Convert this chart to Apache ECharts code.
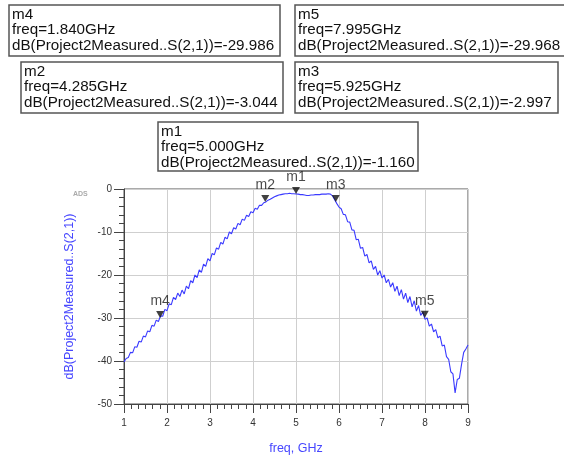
<!DOCTYPE html>
<html>
<head>
<meta charset="utf-8">
<script src="https://cdn.jsdelivr.net/npm/echarts@6/dist/echarts.min.js"></script>
<style>
  html, body { margin: 0; padding: 0; background: #fff; }
  #chart { width: 564px; height: 456px; }
</style>
</head>
<body>
<div id="chart"></div>
<script>
// measured sweep, GHz
var freqGHz = [
  1.00, 1.05, 1.10, 1.15, 1.20, 1.25, 1.30, 1.35, 1.40, 1.45,
  1.50, 1.55, 1.60, 1.65, 1.70, 1.75, 1.80, 1.85, 1.90, 1.95,
  2.00, 2.05, 2.10, 2.15, 2.20, 2.25, 2.30, 2.35, 2.40, 2.45,
  2.50, 2.55, 2.60, 2.65, 2.70, 2.75, 2.80, 2.85, 2.90, 2.95,
  3.00, 3.05, 3.10, 3.15, 3.20, 3.25, 3.30, 3.35, 3.40, 3.45,
  3.50, 3.55, 3.60, 3.65, 3.70, 3.75, 3.80, 3.85, 3.90, 3.95,
  4.00, 4.05, 4.10, 4.15, 4.20, 4.25, 4.30, 4.35, 4.40, 4.45,
  4.50, 4.55, 4.60, 4.65, 4.70, 4.75, 4.80, 4.85, 4.90, 4.95,
  5.00, 5.05, 5.10, 5.15, 5.20, 5.25, 5.30, 5.35, 5.40, 5.45,
  5.50, 5.55, 5.60, 5.65, 5.70, 5.75, 5.80, 5.85, 5.90, 5.95,
  6.00, 6.05, 6.10, 6.15, 6.20, 6.25, 6.30, 6.35, 6.40, 6.45,
  6.50, 6.55, 6.60, 6.65, 6.70, 6.75, 6.80, 6.85, 6.90, 6.95,
  7.00, 7.05, 7.10, 7.15, 7.20, 7.25, 7.30, 7.35, 7.40, 7.45,
  7.50, 7.55, 7.60, 7.65, 7.70, 7.75, 7.80, 7.85, 7.90, 7.95,
  8.00, 8.05, 8.10, 8.15, 8.20, 8.25, 8.30, 8.35, 8.40, 8.45,
  8.50, 8.55, 8.60, 8.65, 8.70, 8.75, 8.80, 8.85, 8.90, 8.95,
  9.00
]
// dB(S21)
var s21dB = [
  -40.2, -39.4, -39.2, -38.0, -38.1, -36.7, -36.8, -35.4, -35.6, -34.2,
  -34.4, -33.0, -33.2, -31.7, -31.9, -30.5, -30.8, -29.5, -29.6, -28.0,
  -28.3, -26.7, -26.9, -25.2, -25.7, -24.2, -25.0, -23.5, -24.4, -22.6,
  -23.2, -21.3, -21.8, -20.0, -20.6, -18.8, -19.4, -17.5, -18.0, -16.2,
  -16.7, -15.0, -15.3, -13.7, -14.0, -12.4, -12.8, -11.2, -11.6, -10.0,
  -10.4, -9.0, -9.3, -8.0, -8.3, -7.0, -7.3, -6.1, -6.4, -5.3,
  -5.5, -4.5, -4.7, -3.8, -3.8, -3.2, -3.0, -2.6, -2.4, -2.1,
  -1.8, -1.6, -1.4, -1.3, -1.2, -1.1, -1.1, -1.0, -1.1, -1.1,
  -1.16, -1.2, -1.3, -1.3, -1.4, -1.5, -1.5, -1.4, -1.4, -1.3,
  -1.3, -1.3, -1.2, -1.2, -1.2, -1.1, -1.2, -1.6, -2.5, -3.4,
  -4.2, -4.6, -5.9, -6.0, -7.6, -7.7, -9.5, -9.6, -11.8, -11.7,
  -13.8, -13.6, -15.6, -15.2, -17.2, -16.7, -18.7, -18.0, -20.0, -19.0,
  -20.7, -20.0, -21.8, -21.0, -22.8, -21.8, -23.8, -22.6, -24.8, -23.4,
  -25.6, -24.2, -26.4, -25.0, -27.4, -26.0, -28.4, -27.1, -29.4, -28.6,
  -30.3, -30.0, -31.9, -31.4, -33.2, -32.7, -34.6, -34.2, -36.5, -36.3,
  -39.0, -39.6, -42.5, -43.0, -47.4, -44.3, -44.0, -40.8, -38.0, -37.2,
  -36.3
]

var markerNames = ['m1', 'm2', 'm3', 'm4', 'm5']
var markerFreq = [5.000, 4.285, 5.925, 1.840, 7.995]
var markerDb = [-1.160, -3.044, -2.997, -29.986, -29.968]

var traceName = 'dB(Project2Measured..S(2,1))'

// readout boxes: x, y, w, h (same order as markerNames)
var boxes = [
  [158, 122, 260, 49],
  [21, 62, 262, 51],
  [295, 62, 263, 51],
  [9, 5, 271, 51],
  [295, 5, 275, 51]
]

var lineData = freqGHz.map(function (f, i) { return [f, s21dB[i]] })
var markerData = markerNames.map(function (n, i) {
  return { name: n, value: [markerFreq[i], markerDb[i]] }
})

var graphics = [{
  type: 'text', left: 73, top: 191,
  style: { text: 'ADS', fill: '#aaa', font: 'bold 7px "Liberation Sans", Arial' }
}]
markerNames.forEach(function (n, i) {
  var b = boxes[i]
  graphics.push({
    type: 'rect',
    shape: { x: b[0], y: b[1], width: b[2], height: b[3] },
    style: { fill: '#fff', stroke: '#555', lineWidth: 1.5 }
  })
  graphics.push({
    type: 'text', x: b[0] + 3, y: b[1] + 2,
    style: {
      text: n + '\nfreq=' + markerFreq[i].toFixed(3) + 'GHz\n' + traceName + '=' + markerDb[i].toFixed(3),
      fill: '#111',
      font: '15.2px "Liberation Sans", Arial',
      lineHeight: 15.5
    }
  })
})

var tickColor = '#444'

var myChart = echarts.init(document.getElementById('chart'))
var options = {
  animation: false,
  backgroundColor: '#fff',
  grid: {
    left: 124, right: 96, top: 189, bottom: 48,
    show: true, borderColor: '#555', borderWidth: 1
  },
  xAxis: {
    type: 'value',
    min: 1, max: 9, interval: 1,
    name: 'freq, GHz',
    nameLocation: 'middle',
    nameGap: 38,
    nameTextStyle: { color: '#4646ff', fontSize: 12.5, fontFamily: 'Liberation Sans' },
    axisLine: { show: true, onZero: false, lineStyle: { color: tickColor } },
    axisTick: { show: true, length: 9, lineStyle: { color: tickColor } },
    minorTick: { show: true, splitNumber: 6, length: 5, lineStyle: { color: tickColor } },
    axisLabel: { margin: 14, color: '#333', fontSize: 10, fontFamily: 'Liberation Sans' },
    splitLine: { show: true, lineStyle: { color: '#cfcfcf' } }
  },
  yAxis: {
    type: 'value',
    min: -50, max: 0, interval: 10,
    name: traceName,
    nameLocation: 'middle',
    nameGap: 48,
    nameTextStyle: { color: '#4646ff', fontSize: 12.5, fontFamily: 'Liberation Sans' },
    axisLine: { show: true, onZero: false, lineStyle: { color: tickColor } },
    axisTick: { show: true, length: 10, lineStyle: { color: tickColor } },
    minorTick: { show: true, splitNumber: 5, length: 5, lineStyle: { color: tickColor } },
    axisLabel: { margin: 12, color: '#333', fontSize: 10, fontFamily: 'Liberation Sans' },
    splitLine: { show: true, lineStyle: { color: '#cfcfcf' } }
  },
  series: [{
    type: 'line',
    data: lineData,
    showSymbol: false,
    symbol: 'none',
    lineStyle: { color: '#3a3aff', width: 1.1 },
    z: 2
  }, {
    type: 'scatter',
    data: markerData,
    symbol: 'triangle',
    symbolRotate: 180,
    symbolSize: [8, 7],
    symbolOffset: [0, -3.5],
    itemStyle: { color: '#111' },
    label: {
      show: true,
      position: 'top',
      distance: 3,
      formatter: '{b}',
      color: '#1a1a1a',
      fontSize: 14,
      fontFamily: 'Liberation Sans'
    },
    z: 3
  }],
  graphic: graphics
}
myChart.setOption(options)
</script>
</body>
</html>
